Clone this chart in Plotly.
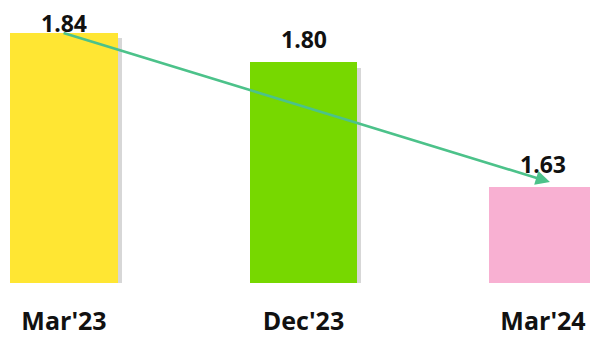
import plotly.graph_objects as go

# chart data
periods = ["Mar'23", "Dec'23", "Mar'24"]
values = [1.84, 1.80, 1.63]
bar_colors = ["#FFE633", "#77D800", "#F8B0D2"]
value_labels = ["1.84", "1.80", "1.63"]

BASE = 1.5
xpos = list(range(len(periods)))
FONT = "Open Sans"

fig = go.Figure()

# soft drop shadow behind each bar
fig.add_trace(go.Bar(
    x=xpos, y=[v - BASE - 0.004 for v in values], base=BASE - 0.004,
    width=0.45, offset=-0.225 + 0.016,
    marker=dict(color="rgba(110,110,110,0.28)", line=dict(width=0)),
    hoverinfo="skip", showlegend=False,
))

fig.add_trace(go.Bar(
    x=xpos, y=[v - BASE for v in values], base=BASE,
    width=0.45,
    marker=dict(color=bar_colors, line=dict(width=0)),
    showlegend=False,
))

# value labels above bars (the tallest one sits tighter against the top)
for i, (v, t) in enumerate(zip(values, value_labels)):
    fig.add_annotation(
        x=xpos[i], y=v, text=f"<b>{t}</b>", showarrow=False,
        yanchor="bottom", yshift=-8 if i == 0 else 5,
        font=dict(family=FONT, size=23, color="#111111"),
    )

# trend arrow from first bar to last bar
fig.add_annotation(
    x=2.029, y=1.637, ax=-0.008, ay=values[0],
    xref="x", yref="y", axref="x", ayref="y",
    text="", showarrow=True, arrowhead=2, arrowsize=1.1,
    arrowwidth=2.6, arrowcolor="#4CC28A", standoff=0,
)

fig.update_layout(
    width=598, height=338,
    margin=dict(l=0, r=0, t=0, b=63),
    paper_bgcolor="white", plot_bgcolor="white",
    bargap=0, barmode="overlay",
)
fig.update_xaxes(
    range=[-0.2338, 2.263], tickvals=xpos, ticktext=periods,
    showgrid=False, zeroline=False, showline=False, ticks="",
    automargin=False, ticklabelstandoff=21,
    tickfont=dict(family=FONT, size=25, color="#111111", weight="bold"),
)
fig.update_yaxes(
    range=[BASE, 1.8733], visible=False, showgrid=False, zeroline=False,
    automargin=False,
)

fig.write_html("out.html")
